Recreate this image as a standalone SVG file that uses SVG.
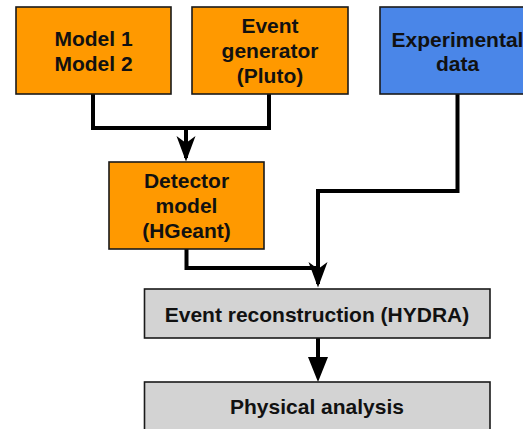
<svg xmlns="http://www.w3.org/2000/svg" width="523" height="429" viewBox="0 0 523 429">
<style>
.box{stroke:#1a1a1a;stroke-width:1.6}
.orange{fill:#FF9900}
.blue{fill:#4A86E8}
.gray{fill:#D3D3D3}
text{font-family:"Liberation Sans",Arial,sans-serif;font-weight:bold;font-size:21px;fill:#111;text-anchor:middle}
.conn{fill:none;stroke:#000;stroke-width:4}
</style>
<g id="connectors">
<path class="conn" d="M93,94 V128 H269 V94"/>
<path class="conn" d="M186,128 V158"/>
<path d="M176.5,136 L186,161.5 L195.5,136 L186,143 Z" fill="#000"/>
<path class="conn" d="M457.5,94 V191 H318 V284"/>
<path d="M308.5,262 L318,287.5 L327.5,262 L318,269 Z" fill="#000"/>
<path class="conn" d="M186.5,249 V268 H318"/>
<path class="conn" d="M318,338 V360"/>
<path d="M308,357 L328,357 L318,382 Z" fill="#000"/>
</g>
<g id="model">
<rect class="box orange" x="16" y="7" width="155" height="87"/>
<text x="93.5" y="46">Model 1</text>
<text x="93.5" y="71">Model 2</text>
</g>
<g id="event-generator">
<rect class="box orange" x="192" y="7" width="156" height="87"/>
<text x="270" y="33">Event</text>
<text x="270" y="58">generator</text>
<text x="270" y="83">(Pluto)</text>
</g>
<g id="experimental-data">
<rect class="box blue" x="380" y="7" width="155" height="87"/>
<text x="457.5" y="47">Experimental</text>
<text x="457.5" y="71">data</text>
</g>
<g id="detector-model">
<rect class="box orange" x="109" y="162" width="155" height="87"/>
<text x="186.5" y="188">Detector</text>
<text x="186.5" y="213">model</text>
<text x="186.5" y="238">(HGeant)</text>
</g>
<g id="event-reconstruction">
<rect class="box gray" x="144.5" y="289" width="345.5" height="49"/>
<text x="317" y="322">Event reconstruction (HYDRA)</text>
</g>
<g id="physical-analysis">
<rect class="box gray" x="144.5" y="382" width="345.5" height="60"/>
<text x="317" y="414">Physical analysis</text>
</g>
</svg>
